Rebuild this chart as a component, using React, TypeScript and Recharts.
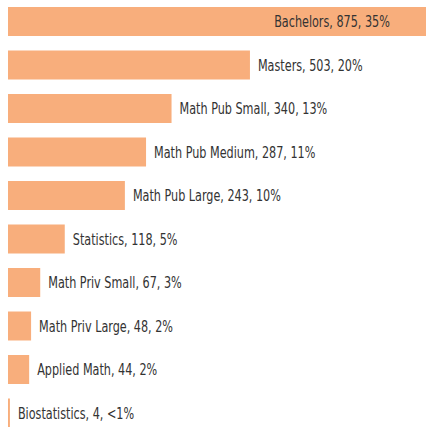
import { BarChart, Bar, XAxis, YAxis, LabelList } from 'recharts';

const categories = [
  'Bachelors',
  'Masters',
  'Math Pub Small',
  'Math Pub Medium',
  'Math Pub Large',
  'Statistics',
  'Math Priv Small',
  'Math Priv Large',
  'Applied Math',
  'Biostatistics',
];
const counts = [875, 503, 340, 287, 243, 118, 67, 48, 44, 4];
const shares = ['35%', '20%', '13%', '11%', '10%', '5%', '3%', '2%', '2%', '<1%'];

const data = categories.map((name, i) => ({ name, count: counts[i], share: shares[i] }));
const maxCount = Math.max(...counts);

// no narrow font installed, so squeeze DejaVu Condensed horizontally
const FONT = '"DejaVu Sans Condensed", sans-serif';
const SQUEEZE = 0.78;

const renderLabel = (props: any) => {
  const { x, y, width, height, index } = props;
  const d = data[index];
  const text = `${d.name}, ${d.count}, ${d.share}`;
  const inside = d.count === maxCount;
  const tx = inside ? x + width - 39 : x + width + 8;
  const ty = y + height / 2;
  return (
    <text
      transform={`translate(${tx},${ty}) scale(${SQUEEZE},1)`}
      x={0}
      y={0}
      textAnchor={inside ? 'end' : 'start'}
      dominantBaseline="central"
      fontFamily={FONT}
      fontSize={16}
      fill="#333"
    >
      {text}
    </text>
  );
};

export default function App() {
  return (
    <div style={{ position: 'absolute', left: 0, top: 0, width: 426, height: 427, overflow: 'hidden', background: '#fff' }}>
      <BarChart
        width={426}
        height={435}
        data={data}
        layout="vertical"
        margin={{ top: 0, right: 0, bottom: 0, left: 8 }}
      >
        <XAxis type="number" hide domain={[0, 869]} allowDataOverflow />
        <YAxis type="category" dataKey="name" hide />
        <Bar dataKey="count" fill="#F8AE7C" barSize={29} isAnimationActive={false}>
          <LabelList dataKey="count" content={renderLabel} />
        </Bar>
      </BarChart>
    </div>
  );
}
